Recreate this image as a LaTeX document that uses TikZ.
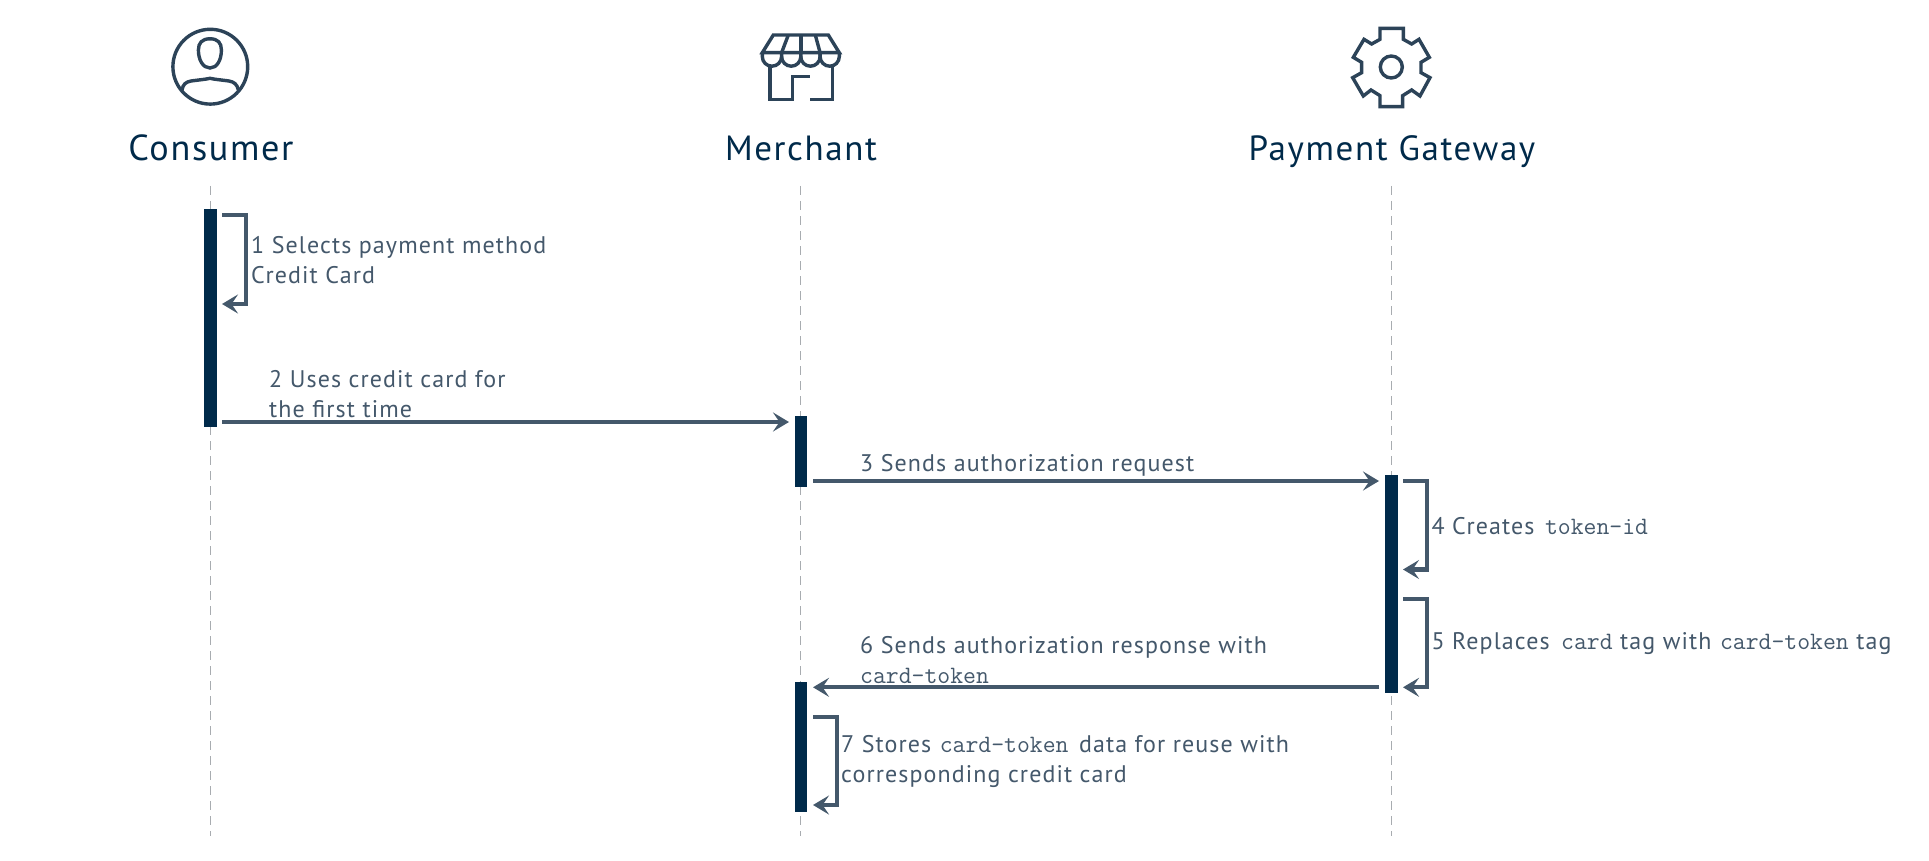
\documentclass[tikz,border=0pt]{standalone}
\usepackage{fontspec}
\setmainfont{PT Sans}[LetterSpace=4.6]
\usetikzlibrary{arrows.meta}
\definecolor{navy}{HTML}{002A4A}
\definecolor{msg}{HTML}{44586B}
\definecolor{icon}{HTML}{2C4358}
\definecolor{life}{HTML}{A8ACB0}
\tikzset{
  x=1pt,y=-1pt,
  title/.style={anchor=base,inner sep=0,text=navy,font=\fontsize{35}{40}\selectfont},
  lab/.style={anchor=base west,inner sep=0,text=msg,align=left,font=\fontsize{24}{30.3}\selectfont},
  bar/.style={fill=navy,draw=none,minimum width=12.4pt,inner sep=0,anchor=north},
  lifeline/.style={draw=life,line width=0.9pt,dash pattern=on 9pt off 6pt},
  call/.style={draw=msg,line width=4.3pt,-{Stealth[length=16pt,width=19pt,inset=6.5pt]}},
  ic/.style={draw=icon,line width=3.4pt,line join=miter,line cap=butt},
}
\newcommand{\tk}[1]{{\fontsize{25}{30.3}\selectfont\ttfamily #1}}
\begin{document}
\begin{tikzpicture}
\useasboundingbox (0,0) rectangle (1929,861);
\fill[white] (0,0) rectangle (1929,861);
% titles
\node[title,font=\fontsize{36.2}{40}\selectfont] (tc) at (211,161) {Consumer};
\node[title] (tm) at (801,161) {Merchant};
\node[title] (tg) at (1392,161) {Payment Gateway};
% lifelines
\coordinate (c0) at (210.5,186); \coordinate (c1) at (210.5,836);
\coordinate (m0) at (800.8,186); \coordinate (m1) at (800.8,836);
\coordinate (g0) at (1391.4,186); \coordinate (g1) at (1391.4,836);
\draw[lifeline] (c0) -- (c1);
\draw[lifeline] (m0) -- (m1);
\draw[lifeline] (g0) -- (g1);
% activation bars
\node[bar,minimum height=218pt] (bc) at (210.5,209) {};
\node[bar,minimum height=71pt] (bm1) at (800.8,416) {};
\node[bar,minimum height=218pt] (bg) at (1391.4,475) {};
\node[bar,minimum height=130.5pt] (bm2) at (800.8,681.3) {};
% connector ends
\coordinate (a1) at (222,215); \coordinate (a1b) at (246,304); \coordinate (a1e) at (222,304);
\coordinate (a2) at (222,422); \coordinate (a2e) at (789,422);
\coordinate (a3) at (813,481); \coordinate (a3e) at (1379,481);
\coordinate (a4) at (1403,481); \coordinate (a4b) at (1427,569.5); \coordinate (a4e) at (1403,569.5);
\coordinate (a5) at (1403,598.7); \coordinate (a5b) at (1427,687.3); \coordinate (a5e) at (1403,687.3);
\coordinate (a6) at (1379,687.3); \coordinate (a6e) at (813,687.3);
\coordinate (a7) at (813,716.7); \coordinate (a7b) at (837,805); \coordinate (a7e) at (813,805);
\draw[call] (a1) -| (a1b) -- (a1e);
\draw[call] (a2) -- (a2e);
\draw[call] (a3) -- (a3e);
\draw[call] (a4) -| (a4b) -- (a4e);
\draw[call] (a5) -| (a5b) -- (a5e);
\draw[call] (a6) -- (a6e);
\draw[call] (a7) -| (a7b) -- (a7e);
% labels
\node[lab] (l1) at (251,283.7) {1 Selects payment method\\Credit Card};
\node[lab] (l2) at (269,417.5) {2 Uses credit card for\\the first time};
\node[lab] (l3) at (860,471.5) {3 Sends authorization request};
\node[lab] (l4) at (1431.4,534) {4 Creates\kern3pt{} \tk{token-id}};
\node[lab] (l5) at (1431.4,649.3) {5 Replaces\kern4pt{} \tk{card} tag with\kern1pt{} \tk{card-token} tag};
\node[lab] (l6) at (860,683.3) {6 Sends authorization response with\\\tk{card-token}};
\node[lab] (l7) at (841,782.8) {7 Stores\kern1pt{} \tk{card-token}\kern3pt{} data for reuse with\\corresponding credit card};
% consumer icon
\draw[ic] (210.3,66.7) circle (37.4);
\draw[ic] (210,38.8) .. controls (202,38.8) and (198.4,43) .. (198.4,50) .. controls (198.4,60) and (203,68) .. (210,68) .. controls (217,68) and (221.4,60) .. (221.4,50) .. controls (221.4,43) and (218,38.8) .. (210,38.8) -- cycle;
\draw[ic] (182,90) .. controls (183,84) and (186,82) .. (191,81) .. controls (198,80) and (205,79.5) .. (210,78.3) .. controls (215,79.5) and (222,80) .. (229,81) .. controls (234,82) and (237,84) .. (238.4,90);
% merchant icon
\begin{scope}[ic]
\draw (773.3,35) -- (828.3,35) -- (839.3,52.7) -- (762.3,52.7) -- cycle;
\draw (788.3,35) -- (781.6,52.7);
\draw (800.8,35) -- (800.8,52.7);
\draw (815.3,35) -- (820.1,52.7);
\draw (762.3,52.7) -- (762.3,56.6) .. controls (762.3,61.9) and (766.6,66.2) .. (771.9,66.2) .. controls (777.2,66.2) and (781.6,61.9) .. (781.6,56.6) -- (781.6,52.7);
\draw (781.6,56.6) .. controls (781.6,61.9) and (785.9,66.2) .. (791.2,66.2) .. controls (796.5,66.2) and (800.8,61.9) .. (800.8,56.6) -- (800.8,52.7);
\draw (800.8,56.6) .. controls (800.8,61.9) and (805.1,66.2) .. (810.4,66.2) .. controls (815.7,66.2) and (820.1,61.9) .. (820.1,56.6) -- (820.1,52.7);
\draw (820.1,52.7) -- (820.1,56.6) .. controls (820.1,61.9) and (824.4,66.2) .. (829.7,66.2) .. controls (835,66.2) and (839.3,61.9) .. (839.3,56.6) -- (839.3,52.7);
\draw (770,66) -- (770,99.3) -- (792.3,99.3) -- (792.3,76.7) -- (810,76.7);
\draw (832.3,66) -- (832.3,99.3) -- (810,99.3);
\end{scope}
% gear icon
\begin{scope}[ic,shift={(1240,0)},x=0.3333pt,y=-0.3333pt]
\draw (420,85)--(490,85)--(490,118)--(515,132)--(537,118)--(568,172)--(543,187)--(543,218)--(570,233)--(540,288)--(515,270)--(488,287)--(488,320)--(420,320)--(420,287)--(393,270)--(370,288)--(338,233)--(365,218)--(365,187)--(340,172)--(372,118)--(395,132)--(420,118)--cycle;
\end{scope}
\draw[ic] (1391.3,67) circle (11);
\end{tikzpicture}
\end{document}
